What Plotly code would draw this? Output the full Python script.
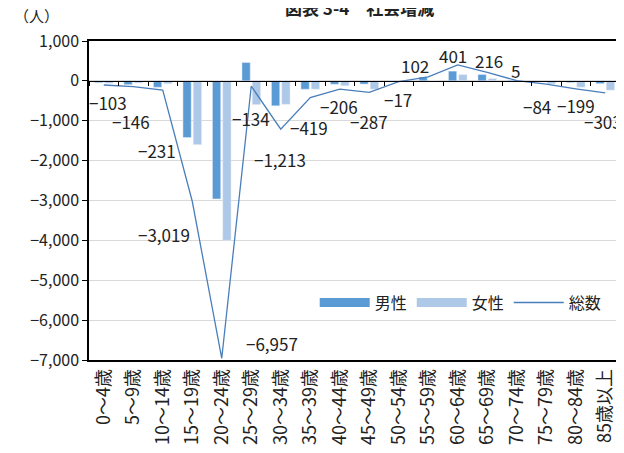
import plotly.graph_objects as go

ages = ['0～4歳', '5～9歳', '10～14歳', '15～19歳', '20～24歳', '25～29歳',
        '30～34歳', '35～39歳', '40～44歳', '45～49歳', '50～54歳', '55～59歳',
        '60～64歳', '65～69歳', '70～74歳', '75～79歳', '80～84歳', '85歳以上']
male = [-45, -95, -160, -1420, -2960, 460, -625, -210, -85, -80, 10, 95, 245, 160, 20, -10, -40, -70]
female = [-58, -51, -71, -1599, -3997, -594, -588, -209, -121, -207, -27, 7, 156, 56, -15, -74, -159, -233]
total = [-103, -146, -231, -3019, -6957, -134, -1213, -419, -206, -287, -17, 102, 401, 216, 5, -84, -199, -303]

# label offsets from each point (px, right / down)
label_dx = [4, -2, -6, -28, 50, 0, -1, -1, -1, 0, -1, -13, -5, 2, -1, -9, 0, -2]
label_dy = [18, 35, 60, 33, -15, 32, 30, 30, 17, 29, 18, -11, -9, -12, -10, 22, 17, 29]

font = 'Noto Sans CJK JP'
c_male = '#5B9BD5'
c_female = '#AEC8E8'
c_total = '#4A7EBB'

fig = go.Figure()

fig.add_trace(go.Bar(x=ages, y=male, name='男性', marker_color=c_male, showlegend=False))
fig.add_trace(go.Bar(x=ages, y=female, name='女性', marker_color=c_female, showlegend=False))
fig.add_trace(go.Scatter(x=ages, y=total, name='総数', mode='lines', xaxis='x2',
                         line=dict(color=c_total, width=1.3), showlegend=False))

# legend entries (wide swatches like the original)
for name, col, w in [('男性', c_male, 9), ('女性', c_female, 9), ('総数', c_total, 1.3)]:
    fig.add_trace(go.Scatter(x=[None], y=[None], mode='lines', name=name,
                             line=dict(color=col, width=w)))

for a, v, dx, dy in zip(ages, total, label_dx, label_dy):
    fig.add_annotation(x=a, y=v, text=f'{v:,}'.replace('-', '−'), showarrow=False,
                       xshift=dx, yshift=-dy, font=dict(size=17, color='#222'))

fig.add_annotation(text='（人）', x=-0.145, y=1.08, xref='paper', yref='paper',
                   showarrow=False, xanchor='left', yanchor='middle',
                   font=dict(size=15, color='#222'))
fig.add_annotation(text='<b>図表 3-4　社会増減</b>', x=0.51, y=1.105, xref='paper',
                   yref='paper', showarrow=False, xanchor='center', yanchor='middle',
                   font=dict(size=17, color='#222'))

fig.update_layout(
    width=616,
    height=445,
    margin=dict(l=81, r=4, t=33, b=93, autoexpand=False),
    paper_bgcolor='white',
    plot_bgcolor='white',
    font=dict(family=font, color='#222'),
    barmode='group',
    bargap=0.3,
    bargroupgap=0.2,
    xaxis=dict(
        type='category', range=[-0.5, 17.5], showline=True, mirror=True,
        linecolor='black', linewidth=1.5, ticks='', tickangle=-90,
        tickfont=dict(size=18), showgrid=False, automargin=False
    ),
    xaxis2=dict(
        type='category', range=[-0.5, 17.5], overlaying='x', anchor='free',
        position=0.875, showline=True, linecolor='black', linewidth=1.2,
        ticks='outside', tickson='boundaries', ticklen=4, tickcolor='black',
        showticklabels=False, showgrid=False, automargin=False
    ),
    yaxis=dict(
        range=[-7000, 1000], dtick=1000, tickformat=',', showline=True,
        mirror=True, linecolor='black', linewidth=1.5, ticks='outside',
        ticklen=5, tickcolor='black', gridcolor='#D9D9D9', zeroline=False,
        tickfont=dict(size=16), domain=[0, 1], automargin=False
    ),
    legend=dict(orientation='h', x=0.975, xanchor='right', y=0.18,
                yanchor='middle', bgcolor='rgba(0,0,0,0)', font=dict(size=16),
                itemwidth=50),
    showlegend=True
)

fig.write_html('out.html')
